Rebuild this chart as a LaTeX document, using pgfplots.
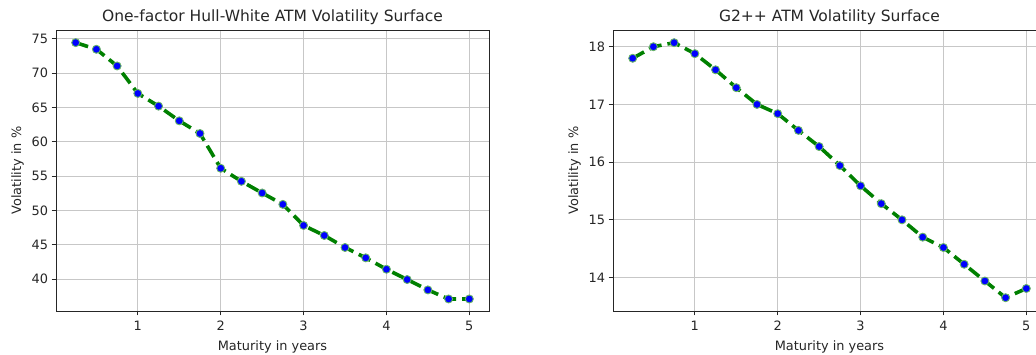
\documentclass[border=0pt]{standalone}
\usepackage{pgfplots}
\pgfplotsset{compat=1.18}
\usepackage{fontspec}
\setmainfont{DejaVu Sans}
\definecolor{mplgreen}{RGB}{0,128,0}
\definecolor{txt}{RGB}{38,38,38}
\pgfplotsset{
 myax/.style={
  scale only axis, width=433pt, height=281pt,
  anchor=south west,
  xmin=0.0125, xmax=5.2375,
  xtick={1,2,3,4,5},
  grid=major, major grid style={line width=0.9pt, color=black!22},
  tick align=outside, tick pos=left, major tick length=4.5pt,
  every tick/.style={line width=0.9pt, black!85},
  axis line style={line width=0.9pt, black!85},
  ticklabel style={font=\fontsize{12.9}{15}\selectfont, text=txt},
  xticklabel style={yshift=-2pt},
  /pgf/number format/assume math mode=true,
  label style={font=\fontsize{12.9}{15}\selectfont, text=txt},
  xlabel style={yshift=-3pt},
  ylabel style={yshift=1pt},
  title style={font=\fontsize{15.5}{18}\selectfont, text=txt, yshift=-4pt},
  xlabel={Maturity in years}, ylabel={Volatility in \%},
 },
 myplot/.style={mplgreen, line width=3.6pt, dash pattern=on 13pt off 6pt, mark=*, mark size=4pt,
   mark options={solid, fill=blue, draw=mplgreen!60!white, line width=0.9pt}},
}
\pgfplotstableread{
x y
0.25 74.46
0.50 73.49
0.75 71.06
1.00 67.06
1.25 65.21
1.50 63.07
1.75 61.22
2.00 56.16
2.25 54.26
2.50 52.56
2.75 50.90
3.00 47.83
3.25 46.37
3.50 44.62
3.75 43.11
4.00 41.45
4.25 39.95
4.50 38.44
4.75 37.12
5.00 37.12
}\hwdata
\pgfplotstableread{
x y
0.25 17.80
0.50 18.00
0.75 18.07
1.00 17.88
1.25 17.60
1.50 17.29
1.75 17.00
2.00 16.84
2.25 16.55
2.50 16.27
2.75 15.94
3.00 15.59
3.25 15.28
3.50 15.00
3.75 14.70
4.00 14.52
4.25 14.23
4.50 13.94
4.75 13.65
5.00 13.81
}\gdata
\begin{document}
\begin{tikzpicture}[x=1pt,y=1pt]
\path[use as bounding box, clip] (0,0) rectangle (1036,355);
\begin{axis}[myax, at={(56pt,44pt)}, ymin=35.37, ymax=76.3, ytick={40,45,...,75},
  title={One-factor Hull-White ATM Volatility Surface}]
\addplot[myplot] table[x=x,y=y] {\hwdata};
\end{axis}
\begin{axis}[myax, at={(613pt,44pt)}, ymin=13.42, ymax=18.29, ytick={14,15,16,17,18},
  title={G2++ ATM Volatility Surface}]
\addplot[myplot] table[x=x,y=y] {\gdata};
\end{axis}
\end{tikzpicture}
\end{document}
